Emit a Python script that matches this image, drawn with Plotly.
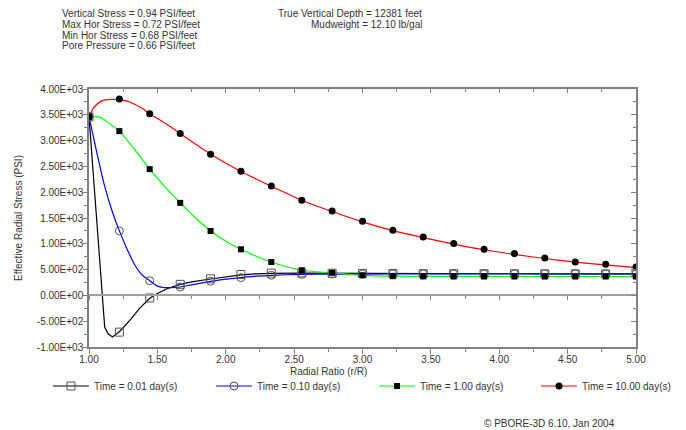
import plotly.graph_objects as go

# ---------------- data ----------------
series_names = ["Time = 0.01 day(s)", "Time = 0.10 day(s)", "Time = 1.00 day(s)", "Time = 10.00 day(s)"]

# marker abscissae (radial ratio)
marker_x = [1.000, 1.222, 1.444, 1.667, 1.889, 2.111, 2.333, 2.556, 2.778, 3.000,
            3.222, 3.444, 3.667, 3.889, 4.111, 4.333, 4.556, 4.778, 5.000]

black_markers = [3460, -712, -50, 214, 322, 405, 432, 436, 430, 426,
                 424, 422, 421, 420, 420, 419, 419, 418, 418]
blue_markers = [3460, 1250, 285, 163, 275, 345, 390, 408, 413, 414,
                415, 415, 415, 415, 415, 415, 415, 415, 415]
green_markers = [3460, 3184, 2447, 1793, 1249, 893, 647, 488, 438, 390,
                 372, 368, 366, 366, 366, 366, 366, 366, 366]
red_markers = [3460, 3805, 3520, 3140, 2735, 2408, 2120, 1845, 1637, 1437,
               1262, 1133, 1004, 893, 810, 725, 647, 602, 550]

# curves
black_x = [1.000, 1.115, 1.140, 1.172, 1.222, 1.300, 1.370, 1.444, 1.500, 1.570,
           1.667, 1.750, 1.889, 2.000, 2.111, 2.222, 2.333, 2.556, 2.778, 3.000,
           3.500, 4.000, 4.500, 5.000]
black_y = [3460, -620, -745, -808, -705, -480, -250, -55, 35, 130,
           214, 262, 318, 365, 398, 418, 428, 433, 429, 425,
           422, 420, 419, 418]

blue_x = [1.000, 1.056, 1.111, 1.167, 1.222, 1.278, 1.333, 1.389, 1.444, 1.500,
          1.550, 1.600, 1.667, 1.750, 1.889, 2.000, 2.111, 2.222, 2.333, 2.556,
          2.778, 3.000, 3.500, 4.000, 4.500, 5.000]
blue_y = [3460, 2780, 2150, 1650, 1250, 900, 600, 395, 285, 180,
          152, 150, 163, 205, 272, 315, 345, 372, 390, 408,
          413, 414, 415, 415, 415, 415]

green_x = [1.000, 1.030, 1.060, 1.090, 1.120, 1.160, 1.222, 1.333, 1.444, 1.556,
           1.667, 1.778, 1.889, 2.000, 2.111, 2.222, 2.333, 2.444, 2.556, 2.667,
           2.778, 3.000, 3.222, 3.500, 4.000, 4.500, 5.000]
green_y = [3460, 3470, 3465, 3440, 3390, 3310, 3184, 2830, 2447, 2105,
           1793, 1505, 1249, 1050, 893, 760, 647, 555, 488, 458,
           438, 390, 372, 368, 366, 366, 366]

red_x = [1.000, 1.030, 1.060, 1.090, 1.120, 1.160, 1.222, 1.280, 1.333, 1.389,
         1.444, 1.556, 1.667, 1.778, 1.889, 2.000, 2.111, 2.222, 2.333, 2.556,
         2.778, 3.000, 3.222, 3.444, 3.667, 3.889, 4.111, 4.333, 4.556, 4.778, 5.000]
red_y = [3460, 3620, 3710, 3765, 3790, 3800, 3795, 3765, 3705, 3625,
         3520, 3335, 3140, 2935, 2735, 2565, 2400, 2255, 2115, 1845,
         1625, 1425, 1255, 1120, 995, 885, 795, 715, 645, 590, 540]

x_tick_vals = [1.0, 1.5, 2.0, 2.5, 3.0, 3.5, 4.0, 4.5, 5.0]
x_tick_text = ["1.00", "1.50", "2.00", "2.50", "3.00", "3.50", "4.00", "4.50", "5.00"]
y_tick_vals = [4000, 3500, 3000, 2500, 2000, 1500, 1000, 500, 0, -500, -1000]
y_tick_text = [f"{v:.2E}" for v in y_tick_vals]

header_left = ["Vertical Stress = 0.94 PSI/feet", "Max Hor Stress = 0.72 PSI/feet",
               "Min Hor Stress = 0.68 PSI/feet", "Pore Pressure = 0.66 PSI/feet"]
header_mid = ["True Vertical Depth = 12381 feet", "Mudweight = 12.10 lb/gal"]

# ---------------- layout helpers ----------------
W, H = 686, 430
L, R, T, B = 89, 50, 89, 83
PW, PH = W - L - R, H - T - B
FONT = "Liberation Sans, Arial, sans-serif"
AX = "#808080"
TXT = "#333333"


def px(xp):
    return (xp - L) / PW


def py(yp):
    return (H - B - yp) / PH


fig = go.Figure()

lines = [(black_x, black_y, "#000000", "linear"),
         (blue_x, blue_y, "#0000FF", "spline"),
         (green_x, green_y, "#00FF00", "spline"),
         (red_x, red_y, "#FF0000", "spline")]
for xs, ys, col, shape in lines:
    fig.add_trace(go.Scatter(x=xs, y=ys, mode="lines", showlegend=False, hoverinfo="skip",
                             line=dict(color=col, width=1.2, shape=shape, smoothing=0.6)))

marker_specs = [
    (black_markers, "#000000", dict(symbol="square-open", size=8, color="#555555", line=dict(width=1))),
    (blue_markers, "#0000FF", dict(symbol="circle-open", size=8, color="#555555", line=dict(width=1))),
    (green_markers, "#00FF00", dict(symbol="square", size=6, color="#000000")),
    (red_markers, "#FF0000", dict(symbol="circle", size=7, color="#000000")),
]
for vals, col, mk in marker_specs:
    fig.add_trace(go.Scatter(x=marker_x, y=vals, mode="markers", showlegend=False,
                             hoverinfo="skip", marker=mk))

# legend entries, one legend box per series
legend_keys = ["legend", "legend2", "legend3", "legend4"]
legend_left_px = [48, 211, 374, 536]
for name, key, (vals, col, mk) in zip(series_names, legend_keys, marker_specs):
    fig.add_trace(go.Scatter(x=[None], y=[None], mode="lines+markers", name=name, legend=key,
                             line=dict(color=col, width=1.2), marker=mk))

# dummy traces for extra axes
fig.add_trace(go.Scatter(x=[None], y=[None], xaxis="x2", yaxis="y", showlegend=False))
fig.add_trace(go.Scatter(x=[None], y=[None], xaxis="x3", yaxis="y", showlegend=False))
fig.add_trace(go.Scatter(x=[None], y=[None], xaxis="x", yaxis="y2", showlegend=False))

tickfont = dict(family=FONT, size=10, color=TXT)
minor_x = dict(ticks="outside", tickvals=[1.25, 1.75, 2.25, 2.75, 3.25, 3.75, 4.25, 4.75],
               ticklen=3, tickcolor=AX)
fig.update_layout(
    width=W, height=H, margin=dict(l=L, r=R, t=T, b=B, autoexpand=False),
    paper_bgcolor="white", plot_bgcolor="white",
    font=dict(family=FONT, size=10, color=TXT),
    xaxis=dict(range=[1, 5], showgrid=False, zeroline=False, showline=True, linecolor=AX,
               linewidth=1.5, ticks="outside", ticklen=5, tickcolor=AX, tickvals=x_tick_vals,
               ticktext=x_tick_text, tickfont=tickfont, minor=minor_x, ticklabelstandoff=-3),
    xaxis2=dict(range=[1, 5], overlaying="x", anchor="free", position=0.2, showgrid=False,
                zeroline=False, showline=True, linecolor="#a0a0a0", linewidth=1.5,
                ticks="outside", ticklen=4, tickcolor=AX, tickvals=x_tick_vals,
                showticklabels=False, minor=dict(minor_x, ticklen=3)),
    xaxis3=dict(range=[1, 5], overlaying="x", side="top", anchor="y", showgrid=False,
                zeroline=False, showline=True, linecolor=AX, linewidth=1.5,
                ticks="inside", ticklen=4, tickcolor=AX, tickvals=x_tick_vals,
                showticklabels=False,
                minor=dict(ticks="inside", tickvals=minor_x["tickvals"], ticklen=3, tickcolor=AX)),
    yaxis=dict(range=[-1000, 4000], showgrid=False, zeroline=False, showline=True, linecolor=AX,
               linewidth=1.5, ticks="outside", ticklen=4, tickcolor=AX, tickvals=y_tick_vals,
               ticktext=y_tick_text, tickfont=tickfont, ticklabelstandoff=-2,
               minor=dict(ticks="outside", dtick=250, ticklen=3, tickcolor=AX)),
    yaxis2=dict(range=[-1000, 4000], overlaying="y", side="right", anchor="x", showgrid=False,
                zeroline=False, showline=True, linecolor=AX, linewidth=1.5, ticks="inside",
                ticklen=5, tickcolor=AX, tickvals=y_tick_vals, showticklabels=False,
                minor=dict(ticks="inside", dtick=250, ticklen=3, tickcolor=AX)),
    showlegend=True,
)
for key, lx in zip(legend_keys, legend_left_px):
    fig.update_layout({key: dict(orientation="h", x=px(lx), xanchor="left", y=py(386),
                                 yanchor="middle", font=dict(family=FONT, size=10, color=TXT),
                                 bgcolor="rgba(0,0,0,0)", itemwidth=36)})

ann = []
for i, t in enumerate(header_left):
    ann.append(dict(text=t, x=px(60), y=py(14 + 10.5 * i), xanchor="left", yanchor="middle"))
for i, t in enumerate(header_mid):
    ann.append(dict(text=t, x=px(424), y=py(14 + 10.5 * i), xanchor="right", yanchor="middle"))
ann.append(dict(text="Effective Radial Stress (PSI)", x=px(18), y=py(218), textangle=-90,
                xanchor="center", yanchor="middle"))
ann.append(dict(text="Radial Ratio (r/R)", x=px(328), y=py(371), xanchor="center", yanchor="middle"))
ann.append(dict(text="© PBORE-3D 6.10, Jan 2004", x=px(482), y=py(423), xanchor="left",
                yanchor="middle"))
for a in ann:
    a.update(xref="paper", yref="paper", showarrow=False,
             font=dict(family=FONT, size=10, color=TXT))
fig.update_layout(annotations=ann)

fig.write_html("out.html", config={"displayModeBar": False},
               post_script="document.body.style.margin='0';document.body.style.padding='0';"
                           "document.documentElement.style.overflow='hidden';")
